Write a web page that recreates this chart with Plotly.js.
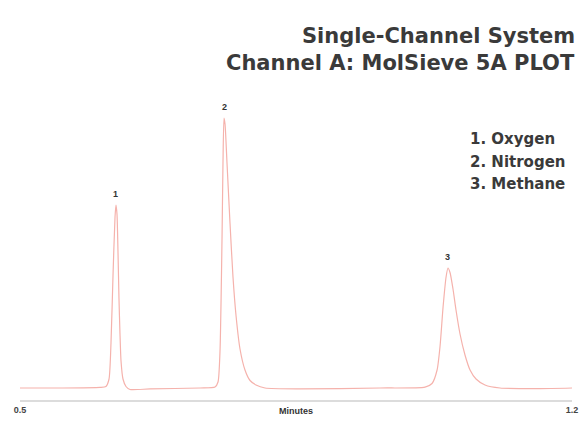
<!DOCTYPE html>
<html>
<head>
<meta charset="utf-8">
<script src="https://cdn.plot.ly/plotly-3.0.1.min.js"></script>
<style>html,body{margin:0;padding:0;background:#fff;}#chart{width:586px;height:428px;}</style>
</head>
<body>
<div id="chart"></div>
<script>
// Chromatogram trace (minutes, detector signal)
var timeMin = [0.5, 0.5507, 0.6014, 0.609, 0.6129, 0.6154, 0.618, 0.6205, 0.6217, 0.623, 0.6243, 0.6255, 0.6268, 0.6281, 0.6306, 0.6344, 0.6395, 0.6649,
  0.7283, 0.7473, 0.7511, 0.7536, 0.7562, 0.7574, 0.7587, 0.76, 0.7625, 0.7663, 0.7701, 0.774, 0.779, 0.7853, 0.7917, 0.7993, 0.8107, 0.8551,
  0.9565, 1.0136, 1.0225, 1.0289, 1.0327, 1.0365, 1.0403, 1.0427, 1.0453, 1.0491, 1.0529, 1.058, 1.0643, 1.0707, 1.0783, 1.0897, 1.1087, 1.1594, 1.2];
var signal = [0, 0, 0.2, 0.5, 3, 15, 38, 57, 61, 58, 45, 30, 18, 9, 3, 0.5, -0.5, -0.3,
  0, 0.3, 2, 12, 50, 75, 90, 88, 75, 55, 37, 24, 13, 6, 2.5, 1, 0, -0.3,
  0, 0.3, 1.5, 6, 14, 27, 37, 40, 38.5, 33, 26, 18, 11, 6, 3, 1, 0, -0.2, 0];

// Peak labels
var peakNumbers = ['1', '2', '3'];
var peakTimes = [0.6217, 0.7587, 1.0427];
var peakHeights = [61, 90, 40];
var compounds = ['1. Oxygen', '2. Nitrogen', '3. Methane'];

// Axis ticks
var tickValues = [0.5, 1.2];
var tickLabels = ['0.5', '1.2'];

var titleLines = ['Single-Channel System', 'Channel A: MolSieve 5A PLOT'];

var L = 20, R = 14, T = 100, B = 28;
var pw = 586 - L - R, ph = 428 - T - B;
function px2paperX(px) { return (px - L) / pw; }
function px2paperY(py) { return (428 - py - B) / ph; }

var annotations = [];
for (var i = 0; i < peakNumbers.length; i++) {
  annotations.push({
    x: peakTimes[i], y: peakHeights[i], xref: 'x', yref: 'y',
    text: '<b>' + peakNumbers[i] + '</b>', showarrow: false,
    yanchor: 'bottom', yshift: 4,
    font: {family: 'Liberation Sans, Arial, sans-serif', size: 9, color: '#333'}
  });
}
for (var j = 0; j < compounds.length; j++) {
  annotations.push({
    x: px2paperX(468), y: px2paperY(139 + 22.5 * j), xref: 'paper', yref: 'paper',
    text: compounds[j], showarrow: false,
    xanchor: 'left', yanchor: 'middle',
    font: {family: 'DejaVu Sans, sans-serif', size: 15, color: '#3a3a3a', weight: 'bold'}
  });
}
annotations.push({
  x: 0.5, y: 0, xref: 'paper', yref: 'paper', yanchor: 'top', yshift: -4,
  text: '<b>Minutes</b>', showarrow: false,
  font: {family: 'Liberation Sans, Arial, sans-serif', size: 9, color: '#333'}
});
for (var k = 0; k < titleLines.length; k++) {
  annotations.push({
    x: px2paperX(577), y: px2paperY(36 + 27 * k), xref: 'paper', yref: 'paper',
    xanchor: 'right', yanchor: 'middle', showarrow: false,
    text: titleLines[k],
    font: {family: 'DejaVu Sans, sans-serif', size: 21, color: '#3a3a3a', weight: 'bold'}
  });
}

var trace = {
  x: timeMin, y: signal, type: 'scatter', mode: 'lines',
  line: {color: '#f5b2ac', width: 1.2, shape: 'spline', smoothing: 0.6},
  hoverinfo: 'none'
};

var layout = {
  width: 586, height: 428,
  margin: {l: L, r: R, t: T, b: B},
  paper_bgcolor: '#fff', plot_bgcolor: '#fff',
  showlegend: false,
  xaxis: {
    range: [0.5, 1.2], tickvals: tickValues, ticktext: tickLabels,
    showgrid: false, zeroline: false, showline: true, linecolor: '#dcdcdc', linewidth: 2,
    ticks: '', tickfont: {family: 'Liberation Sans, Arial, sans-serif', size: 9, color: '#444', weight: 'bold'}
  },
  yaxis: {
    range: [-4, 96], visible: false, showgrid: false, zeroline: false
  },
  annotations: annotations
};

Plotly.newPlot('chart', [trace], layout, {displayModeBar: false, staticPlot: true});
</script>
</body>
</html>
